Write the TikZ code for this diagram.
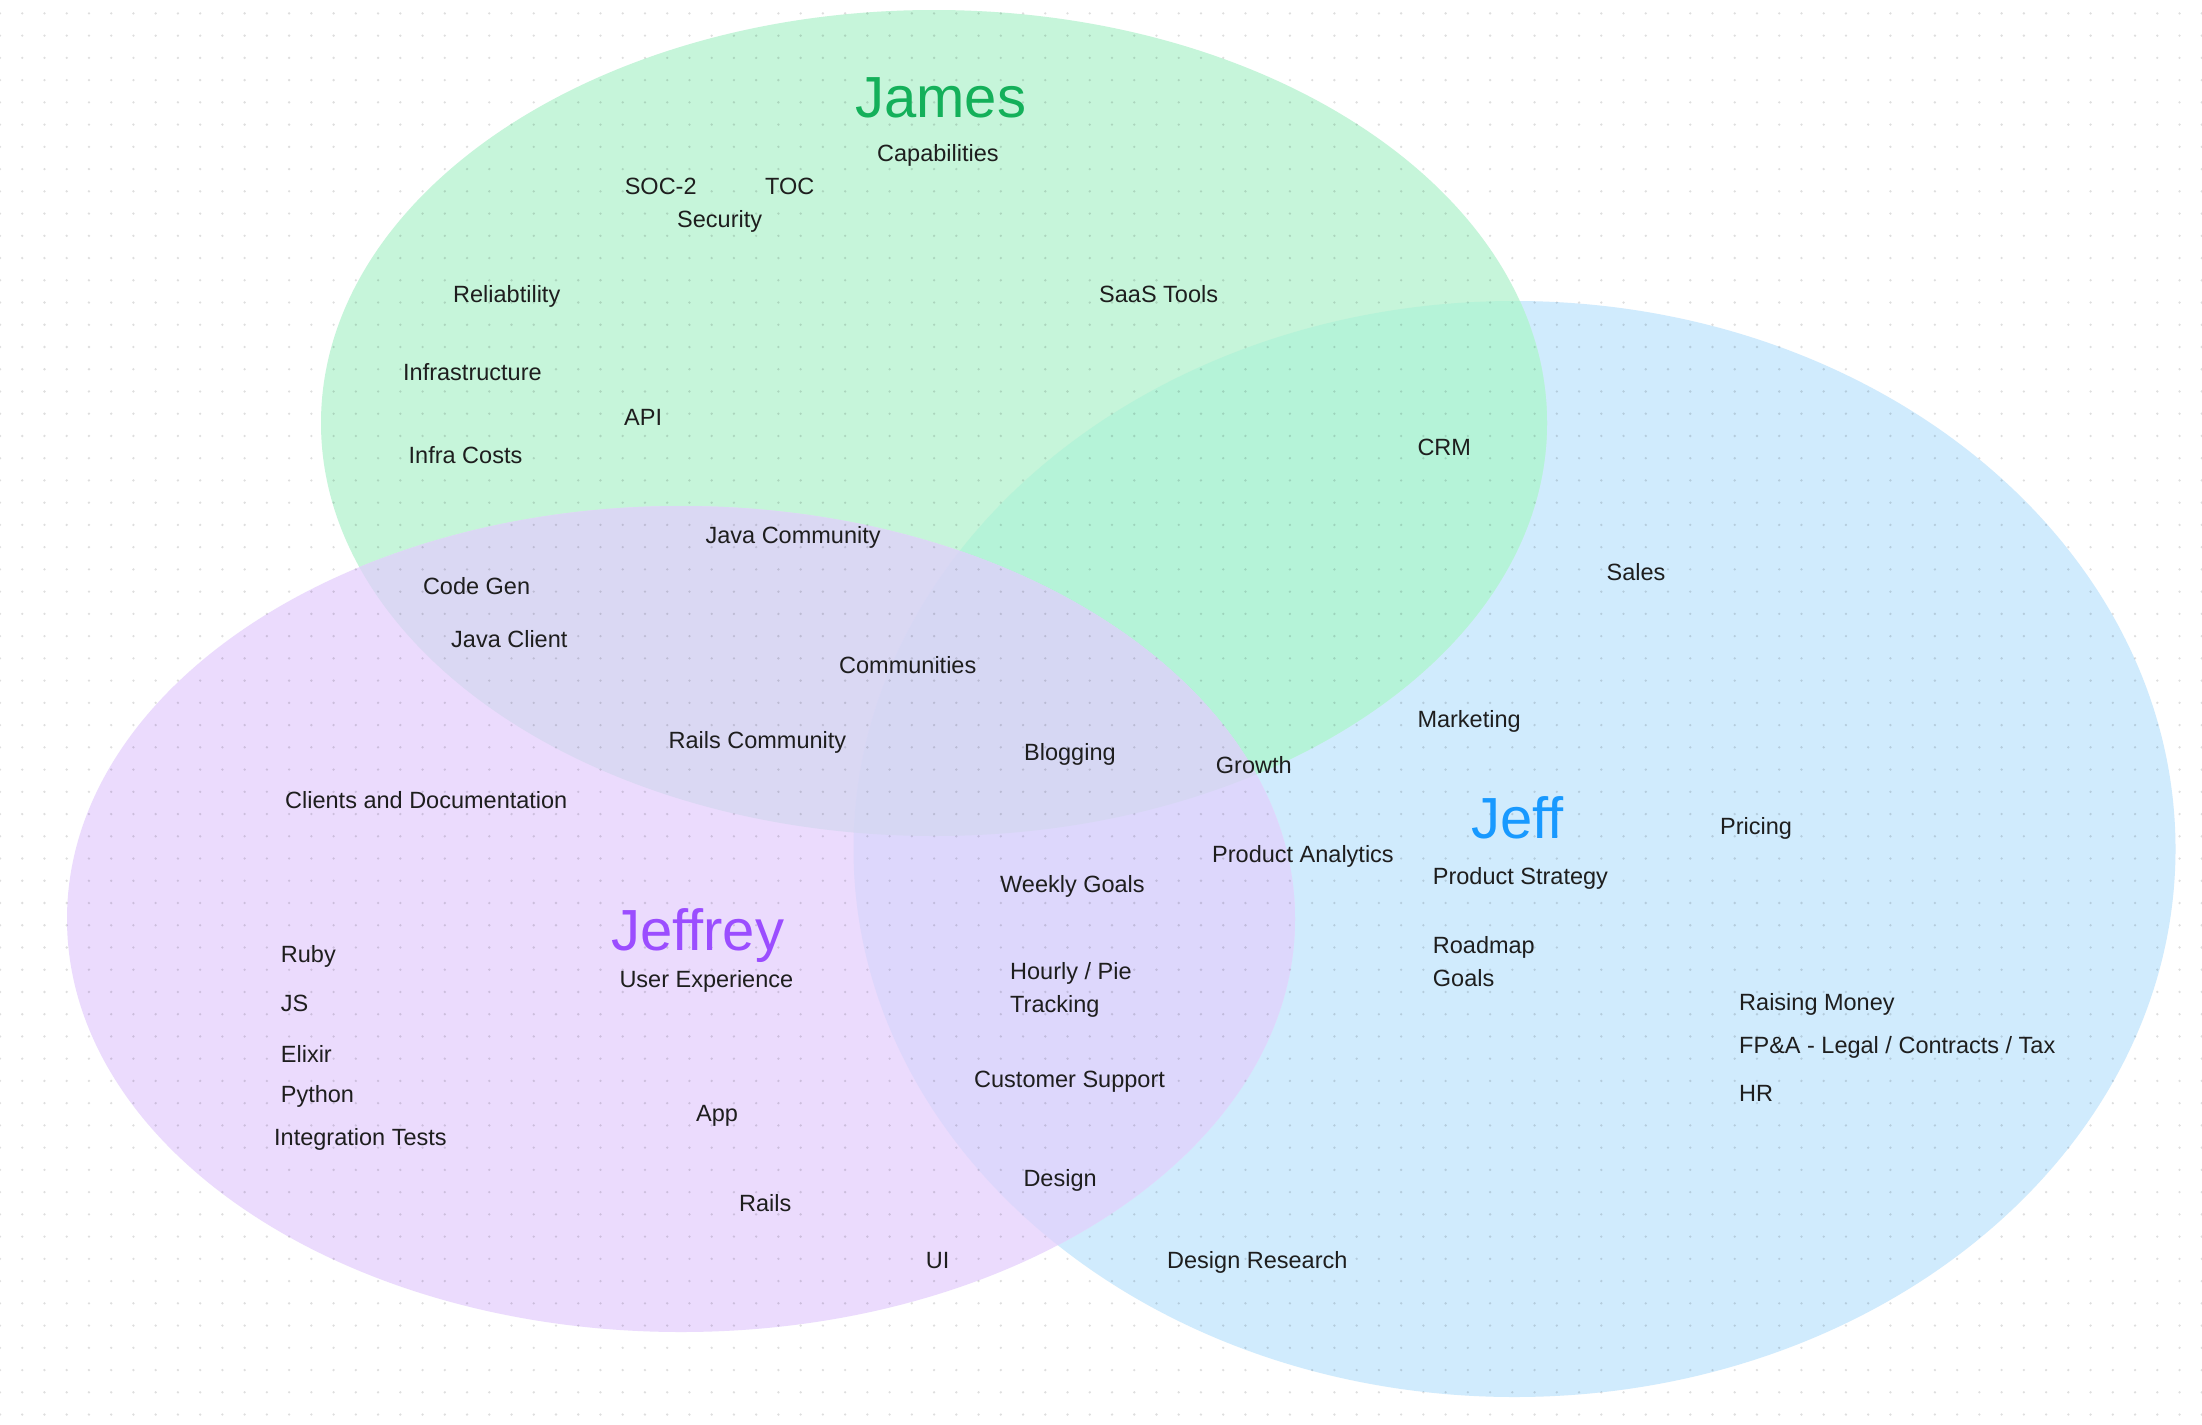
\documentclass[tikz,border=0pt]{standalone}
\usepackage{fontspec}
\setmainfont{Liberation Sans}
\usepackage{tikz}
\usetikzlibrary{positioning}
\definecolor{jamesfill}{HTML}{C6F5DA}
\definecolor{jefffill}{HTML}{D0EBFD}
\definecolor{jeffreyfill}{HTML}{EBDBFD}
\definecolor{jamesjeff}{HTML}{B5F3D8}
\definecolor{jamesjeffrey}{HTML}{DAD8F3}
\definecolor{jeffjeffrey}{HTML}{DDD7FC}
\definecolor{allthree}{HTML}{D6D7F3}
\definecolor{jamesgreen}{HTML}{14B05A}
\definecolor{jeffblue}{HTML}{1899FF}
\definecolor{jeffreypurple}{HTML}{9B4DFF}
\definecolor{inkdark}{HTML}{1E1E1E}

\begin{document}
\begin{tikzpicture}[x=1pt, y=-1pt,
  lbl/.style={anchor=base west, inner sep=0pt, text=inkdark, font=\fontsize{23.5}{28}\selectfont},
  title/.style={anchor=base west, inner sep=0pt, font=\fontsize{58}{70}\selectfont}
]
\useasboundingbox (0,0) rectangle (2202,1424);
\fill[white] (0,0) rectangle (2202,1424);

% circles
\def\jamesshape{(934,423) ellipse [x radius=613pt, y radius=413pt]}
\def\jeffshape{(1514.5,849) ellipse [x radius=661pt, y radius=548pt]}
\def\jeffreyshape{(681,919) ellipse [x radius=614pt, y radius=413pt]}
\fill[jefffill] \jeffshape;
\fill[jamesfill] \jamesshape;
\fill[jeffreyfill] \jeffreyshape;
\begin{scope} \clip \jamesshape; \fill[jamesjeff] \jeffshape; \end{scope}
\begin{scope} \clip \jeffreyshape; \fill[jamesjeffrey] \jamesshape; \end{scope}
\begin{scope} \clip \jeffreyshape; \fill[jeffjeffrey] \jeffshape; \end{scope}
\begin{scope} \clip \jeffreyshape; \clip \jamesshape; \fill[allthree] \jeffshape; \end{scope}

% dot grid
\foreach \j in {0,...,63}
  \fill[black, opacity=0.13] foreach \i in {0,...,99} { (\i*22.24, 13.4+\j*22.24) circle (1.3pt) };

% titles
\node[title, text=jamesgreen] (james) at (855,117) {James};
\node[title, text=jeffblue] (jeff) at (1471,838) {Jeff};
\node[title, text=jeffreypurple] (jeffrey) at (611,950) {Jeffrey};

% James only
\node[lbl] (cap) at (877,161) {Capabilities};
\node[lbl] (soc) at (624.6,194.3) {SOC-2};
\node[lbl] (toc) at (765,194.3) {TOC};
\node[lbl] (sec) at (677,227.7) {Security};
\node[lbl] (rel) at (453,302.7) {Reliabtility};
\node[lbl] (saas) at (1099,302.7) {SaaS Tools};
\node[lbl] (infra) at (403,380) {Infrastructure};
\node[lbl] (api) at (624,425) {API};
\node[lbl] (icost) at (408.5,463.3) {Infra Costs};

% James and Jeff
\node[lbl] (crm) at (1417.3,455.7) {CRM};

% James and Jeffrey
\node[lbl] (jcom) at (705.4,543.3) {Java Community};
\node[lbl] (cgen) at (422.8,594.3) {Code Gen};
\node[lbl] (jcli) at (451,647.7) {Java Client};
\node[lbl] (rcom) at (668.4,748.5) {Rails Community};

% all three
\node[lbl] (comm) at (839,673.3) {Communities};
\node[lbl] (blog) at (1024,760) {Blogging};
\node[lbl] (grow) at (1215.7,773.3) {Growth};

% Jeff only
\node[lbl] (sales) at (1606.5,580) {Sales};
\node[lbl] (mkt) at (1417.3,727.3) {Marketing};
\node[lbl] (price) at (1720,834) {Pricing};
\node[lbl] (pana) at (1212,862.3) {Product Analytics};
\node[lbl] (pstr) at (1432.7,884) {Product Strategy};
\node[lbl] (road) at (1432.7,953.3) {Roadmap};
\node[lbl] (goals) at (1432.7,986.7) {Goals};
\node[lbl] (raise) at (1739,1010) {Raising Money};
\node[lbl] (fpa) at (1739,1053.3) {FP\&A - Legal / Contracts / Tax};
\node[lbl] (hr) at (1739,1101.7) {HR};
\node[lbl] (dres) at (1167,1268.3) {Design Research};

% Jeff and Jeffrey
\node[lbl] (wgoal) at (1000,892.3) {Weekly Goals};
\node[lbl] (hour) at (1010,979) {Hourly / Pie};
\node[lbl] (track) at (1010,1012.3) {Tracking};
\node[lbl] (csup) at (974,1087.3) {Customer Support};
\node[lbl] (des) at (1023.3,1186) {Design};

% Jeffrey only
\node[lbl] (cdoc) at (285,808.3) {Clients and Documentation};
\node[lbl] (ruby) at (280.7,962.3) {Ruby};
\node[lbl] (ux) at (619.3,987.3) {User Experience};
\node[lbl] (js) at (280.7,1011.7) {JS};
\node[lbl] (elix) at (280.7,1062.3) {Elixir};
\node[lbl] (py) at (280.7,1102.3) {Python};
\node[lbl] (app) at (696,1121) {App};
\node[lbl] (itest) at (274,1145.7) {Integration Tests};
\node[lbl] (rails) at (739,1211) {Rails};
\node[lbl] (ui) at (925.7,1268.3) {UI};
\end{tikzpicture}
\end{document}
